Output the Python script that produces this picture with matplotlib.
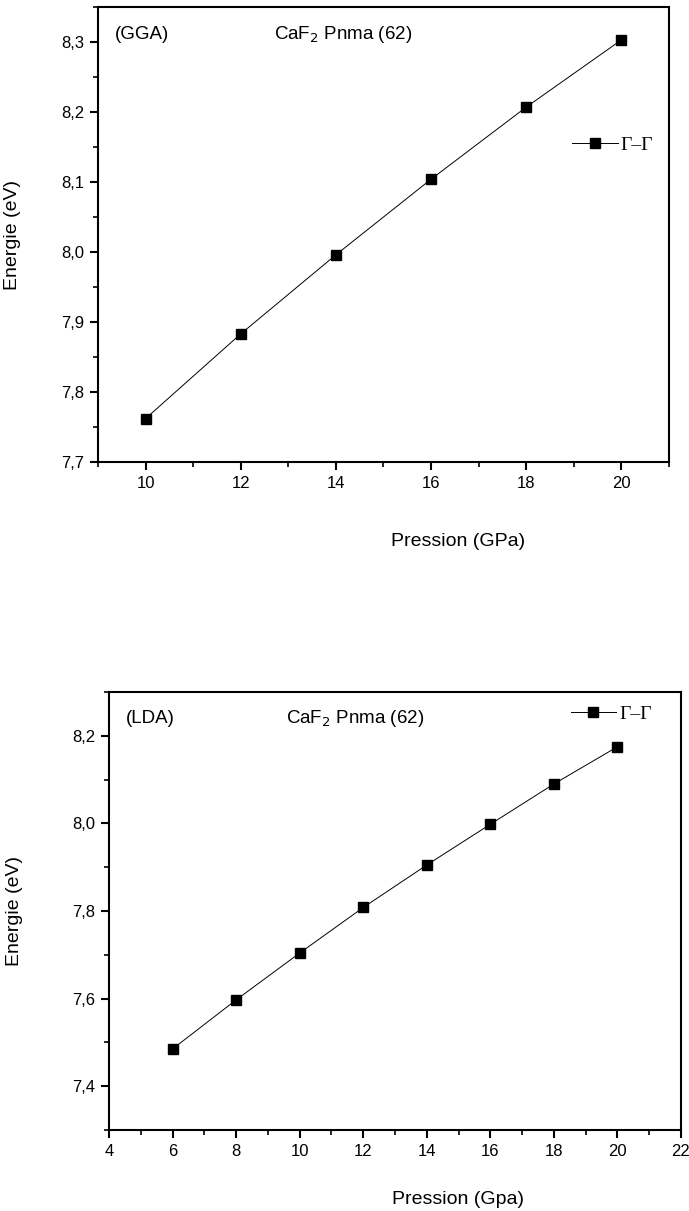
import matplotlib
matplotlib.use("Agg")
import matplotlib.pyplot as plt
from matplotlib.ticker import MultipleLocator, FuncFormatter

plt.rcParams['font.family'] = ['Liberation Sans', 'DejaVu Sans']

# GGA gap vs pressure
p_gga = [10, 12, 14, 16, 18, 20]
e_gga = [7.762, 7.883, 7.996, 8.104, 8.207, 8.303]

# LDA gap vs pressure
p_lda = [6, 8, 10, 12, 14, 16, 18, 20]
e_lda = [7.485, 7.597, 7.704, 7.808, 7.905, 7.998, 8.090, 8.175]

series_label = "\u0393\u2013\u0393"
compound = "CaF$_2$ Pnma (62)"

comma = FuncFormatter(lambda v, pos: f"{v:.1f}".replace(".", ","))
intfmt = FuncFormatter(lambda v, pos: f"{v:.0f}")

fig = plt.figure(figsize=(6.89, 12.11), dpi=100)


def style(ax, xmaj, xmin, ymaj, ymin):
    for s in ax.spines.values():
        s.set_linewidth(1.5)
    ax.xaxis.set_major_locator(MultipleLocator(xmaj))
    ax.xaxis.set_minor_locator(MultipleLocator(xmin))
    ax.yaxis.set_major_locator(MultipleLocator(ymaj))
    ax.yaxis.set_minor_locator(MultipleLocator(ymin))
    ax.xaxis.set_major_formatter(intfmt)
    ax.yaxis.set_major_formatter(comma)
    ax.tick_params(which='major', direction='out', length=6, width=1.5,
                   labelsize=12, pad=4)
    ax.tick_params(which='minor', direction='out', length=3.5, width=1.2)
    ax.tick_params(top=False, right=False)


def legend(ax, loc_xy):
    leg = ax.legend(loc='center left', bbox_to_anchor=loc_xy, frameon=False,
                    handlelength=2.35, handletextpad=0.15, borderpad=0,
                    prop={'family': 'Liberation Serif', 'size': 14})
    return leg


# top panel
ax1 = fig.add_axes([98 / 689, 1 - 462 / 1211, 571 / 689, 455 / 1211])
ax1.plot(p_gga, e_gga, color='black', lw=0.7, marker='s', markersize=7,
         label=series_label)
ax1.set_xlim(9, 21)
ax1.set_ylim(7.7, 8.35)
style(ax1, 2, 1, 0.1, 0.05)
ax1.set_xlabel("Pression (GPa)", fontsize=14)
ax1.xaxis.set_label_coords(0.63, -0.155)
ax1.set_ylabel("Energie (eV)", fontsize=14)
ax1.yaxis.set_label_coords(-0.135, 0.5)
ax1.text(0.03, 0.94, "(GGA)", transform=ax1.transAxes, fontsize=13.5,
         va='center', ha='left')
ax1.text(0.43, 0.94, compound, transform=ax1.transAxes, fontsize=13.5,
         va='center', ha='center')
legend(ax1, (0.813, 0.697))

# bottom panel
ax2 = fig.add_axes([109 / 689, 1 - 1130 / 1211, 572 / 689, 438 / 1211])
ax2.plot(p_lda, e_lda, color='black', lw=0.7, marker='s', markersize=7,
         label=series_label)
ax2.set_xlim(4, 22)
ax2.set_ylim(7.3, 8.3)
style(ax2, 2, 1, 0.2, 0.1)
ax2.set_xlabel("Pression (Gpa)", fontsize=14)
ax2.xaxis.set_label_coords(0.61, -0.14)
ax2.set_ylabel("Energie (eV)", fontsize=14)
ax2.yaxis.set_label_coords(-0.15, 0.5)
ax2.text(0.03, 0.94, "(LDA)", transform=ax2.transAxes, fontsize=13.5,
         va='center', ha='left')
ax2.text(0.43, 0.94, compound, transform=ax2.transAxes, fontsize=13.5,
         va='center', ha='center')
legend(ax2, (0.79, 0.95))

fig.savefig("out.png", dpi=100)
